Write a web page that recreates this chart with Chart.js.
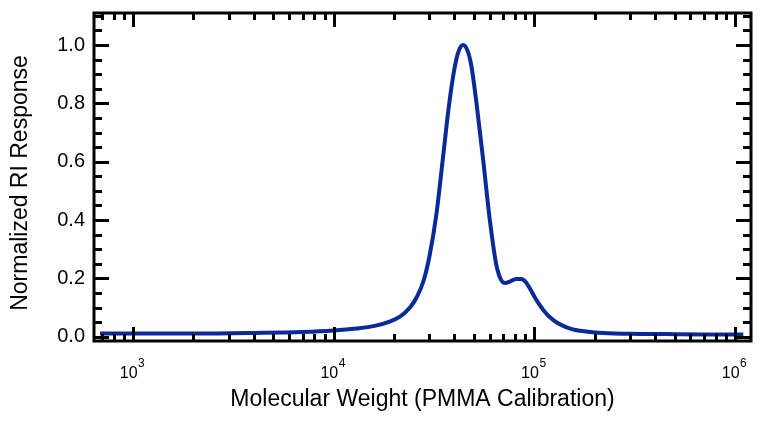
<!DOCTYPE html>
<html>
<head>
<meta charset="utf-8">
<script src="https://cdn.jsdelivr.net/npm/chart.js@4.4.1/dist/chart.umd.min.js"></script>
<style>
  html, body { margin: 0; padding: 0; background: #fff; }
  canvas { display: block; }
</style>
</head>
<body>
<canvas id="chart" width="762" height="421"></canvas>
<script>
// GPC trace: normalized RI response vs. molecular weight (PMMA calibration)

const molWeight = [
  685, 1000, 2000, 4000, 7000, 10000, 13000, 16000, 19000, 21500,
  24000, 26000, 28000, 30000, 32500, 35000, 37500, 40000, 42000, 44200,
  46500, 48500, 51500, 55500, 60000, 64500, 68000, 71500, 76000, 81000,
  86000, 91000, 95000, 100000, 105000, 111000, 120000, 130000, 145000, 160000,
  185000, 220000, 300000, 450000, 700000, 1100000
];
const riResponse = [
  0.011, 0.011, 0.011, 0.013, 0.016, 0.021, 0.028, 0.037, 0.052, 0.070,
  0.100, 0.137, 0.190, 0.275, 0.420, 0.610, 0.790, 0.920, 0.980, 1.000,
  0.980, 0.930, 0.800, 0.610, 0.400, 0.250, 0.197, 0.184, 0.190, 0.198,
  0.198, 0.186, 0.165, 0.138, 0.114, 0.091, 0.066, 0.048, 0.032, 0.023,
  0.017, 0.013, 0.010, 0.009, 0.008, 0.008
];

const xMajorTicks = [1e3, 1e4, 1e5, 1e6];
const xTickExponents = ["3", "4", "5", "6"];
const yMajorTicks = [0, 0.2, 0.4, 0.6, 0.8, 1.0];
const yMinorTicks = [0.05, 0.1, 0.15, 0.25, 0.3, 0.35, 0.45, 0.5, 0.55, 0.65, 0.7, 0.75, 0.85, 0.9, 0.95, 1.05, 1.1];
const yTitle = "Normalized RI Response";

const FONT = "'Liberation Sans', Arial, sans-serif";

// inner tick marks on all four sides + the black frame + 10^n labels
const framePlugin = {
  id: "frame",
  afterDraw(chart) {
    const { ctx, chartArea: a, scales: { x, y } } = chart;
    ctx.save();
    ctx.strokeStyle = "#000";
    ctx.lineWidth = 3;
    ctx.lineCap = "butt";

    const xMinor = [];
    for (let d = 100; d <= 1e6; d *= 10) {
      for (let k = 2; k <= 9; k++) {
        const v = k * d;
        if (v > x.min && v < x.max) xMinor.push(v);
      }
    }
    const vTick = (px, len) => {
      ctx.beginPath();
      ctx.moveTo(px, a.bottom); ctx.lineTo(px, a.bottom - len);
      ctx.moveTo(px, a.top); ctx.lineTo(px, a.top + len);
      ctx.stroke();
    };
    const hTick = (py, len) => {
      ctx.beginPath();
      ctx.moveTo(a.left, py); ctx.lineTo(a.left + len, py);
      ctx.moveTo(a.right, py); ctx.lineTo(a.right - len, py);
      ctx.stroke();
    };
    xMinor.forEach((v) => vTick(Math.round(x.getPixelForValue(v)) + 0.5, 7));
    xMajorTicks.forEach((v) => vTick(Math.round(x.getPixelForValue(v)) + 0.5, 14));
    yMinorTicks.forEach((v) => hTick(Math.round(y.getPixelForValue(v)) + 0.5, 8));
    yMajorTicks.forEach((v) => hTick(Math.round(y.getPixelForValue(v)) + 0.5, 15));

    ctx.strokeRect(a.left, a.top, a.right - a.left, a.bottom - a.top);

    // x tick labels as 10 with a raised exponent
    ctx.fillStyle = "#000";
    ctx.textBaseline = "alphabetic";
    ctx.textAlign = "left";
    xMajorTicks.forEach((v, i) => {
      const px = x.getPixelForValue(v);
      ctx.font = "16px " + FONT;
      const wBase = ctx.measureText("10").width;
      ctx.font = "12px " + FONT;
      const wExp = ctx.measureText(xTickExponents[i]).width;
      const start = px - 1 - (wBase + wExp) / 2;
      ctx.font = "16px " + FONT;
      ctx.fillText("10", start, 378);
      ctx.font = "12px " + FONT;
      ctx.fillText(xTickExponents[i], start + wBase + 0.5, 367);
    });

    // y title, a little below the plot centre like the original
    ctx.font = "23px " + FONT;
    ctx.textAlign = "center";
    ctx.textBaseline = "middle";
    ctx.translate(21, 183);
    ctx.rotate(-Math.PI / 2);
    ctx.fillText(yTitle, 0, 0);
    ctx.restore();
  },
};

const noPad = (s) => { s.paddingTop = 0; s.paddingBottom = 0; s.paddingLeft = 0; s.paddingRight = 0; };

new Chart(document.getElementById("chart"), {
  type: "line",
  data: {
    datasets: [
      {
        label: "RI",
        data: molWeight.map((m, i) => ({ x: m, y: riResponse[i] })),
        borderColor: "#0a2a9a",
        borderWidth: 4,
        pointRadius: 0,
        cubicInterpolationMode: "monotone",
        fill: false,
      },
    ],
  },
  options: {
    responsive: false,
    animation: false,
    devicePixelRatio: 1,
    layout: { padding: { top: 13, right: 11, left: 0, bottom: 0 } },
    plugins: { legend: { display: false }, tooltip: { enabled: false } },
    scales: {
      x: {
        type: "logarithmic",
        min: 639,
        max: 1.2016e6,
        grid: { display: false, drawTicks: false },
        border: { display: false },
        ticks: { display: false },
        afterBuildTicks: (s) => { s.ticks = xMajorTicks.map((v) => ({ value: v })); },
        afterFit: (s) => { s.height = 80; noPad(s); },
        title: {
          display: true,
          text: "Molecular Weight (PMMA Calibration)",
          color: "#000",
          font: { family: FONT, size: 23 },
          padding: { top: 0, bottom: 8 },
        },
      },
      y: {
        min: -0.0147,
        max: 1.1097,
        grid: { display: false, drawTicks: false },
        border: { display: false },
        afterBuildTicks: (s) => { s.ticks = yMajorTicks.map((v) => ({ value: v })); },
        afterFit: (s) => { s.width = 94; noPad(s); },
        ticks: {
          color: "#000",
          padding: 9,
          font: { family: FONT, size: 20 },
          callback: (v) => Number(v).toFixed(1),
        },
        title: { display: false },
      },
    },
  },
  plugins: [framePlugin],
});
</script>
</body>
</html>
